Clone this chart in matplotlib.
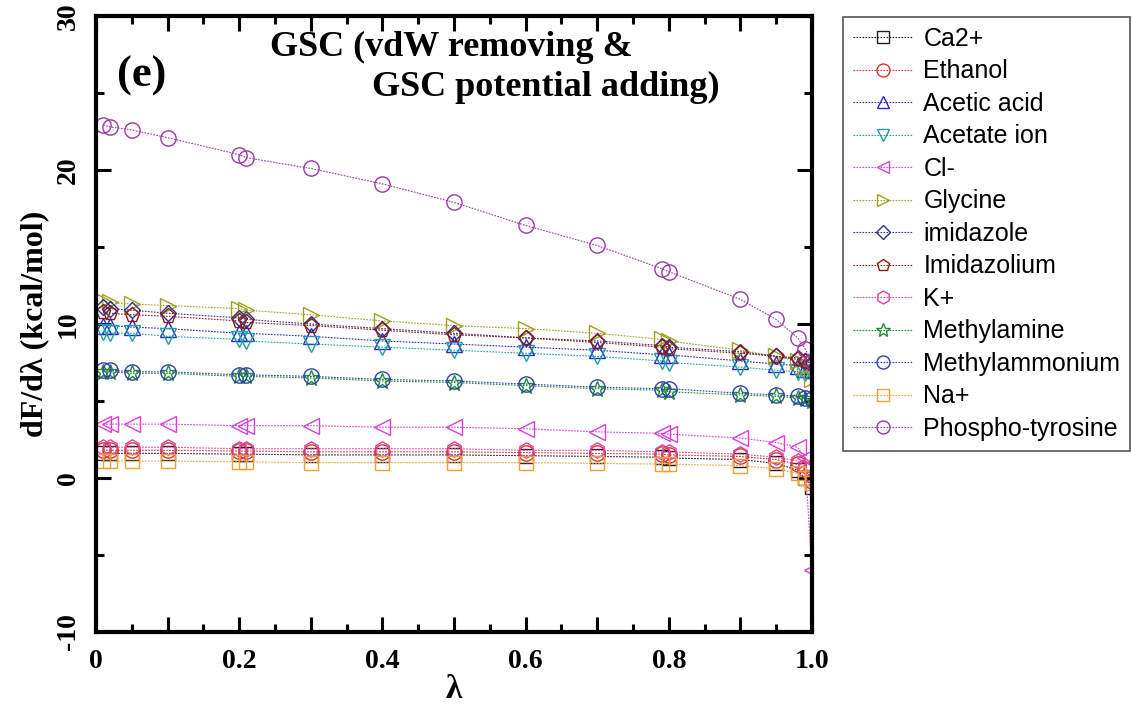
import matplotlib
matplotlib.use("Agg")
import matplotlib.pyplot as plt
from matplotlib.ticker import MultipleLocator

# lambda windows
lam = [0.01, 0.02, 0.05, 0.1, 0.2, 0.21, 0.3, 0.4, 0.5, 0.6, 0.7, 0.79, 0.8, 0.9, 0.95, 0.98, 0.99, 1.0]

# dF/dlambda (kcal/mol)
ca2 = [1.6, 1.6, 1.6, 1.6, 1.55, 1.55, 1.5, 1.5, 1.5, 1.45, 1.4, 1.35, 1.3, 1.2, 0.95, 0.5, 0.0, -0.6]
ethanol = [1.8, 1.8, 1.8, 1.8, 1.75, 1.75, 1.7, 1.7, 1.7, 1.65, 1.6, 1.55, 1.5, 1.4, 1.2, 0.9, 0.6, -0.2]
acetic_acid = [9.9, 9.9, 9.8, 9.7, 9.4, 9.4, 9.2, 8.9, 8.7, 8.5, 8.3, 8.0, 8.0, 7.6, 7.4, 7.3, 7.1, 7.0]
acetate_ion = [9.5, 9.4, 9.4, 9.2, 9.0, 8.9, 8.7, 8.5, 8.3, 8.1, 7.9, 7.6, 7.5, 7.2, 7.0, 6.9, 6.8, 6.7]
cl = [3.5, 3.5, 3.5, 3.5, 3.4, 3.4, 3.4, 3.3, 3.3, 3.2, 3.0, 2.9, 2.85, 2.6, 2.3, 2.0, 1.3, -6.0]
glycine = [11.5, 11.4, 11.3, 11.2, 11.0, 10.9, 10.6, 10.2, 9.9, 9.7, 9.4, 9.0, 8.9, 8.3, 7.9, 7.6, 7.2, 6.4]
imidazole = [11.1, 11.0, 10.9, 10.7, 10.4, 10.3, 10.0, 9.7, 9.4, 9.1, 8.9, 8.6, 8.5, 8.2, 7.9, 7.8, 7.6, 7.4]
imidazolium = [10.8, 10.7, 10.6, 10.5, 10.2, 10.1, 9.9, 9.6, 9.3, 9.1, 8.8, 8.5, 8.4, 8.1, 7.9, 7.7, 7.6, 7.5]
k = [2.0, 2.0, 2.0, 2.0, 1.9, 1.9, 1.9, 1.9, 1.9, 1.8, 1.8, 1.7, 1.7, 1.55, 1.35, 1.1, 0.8, 0.1]
methylamine = [6.9, 6.9, 6.8, 6.8, 6.6, 6.6, 6.5, 6.3, 6.2, 6.0, 5.8, 5.7, 5.6, 5.4, 5.3, 5.2, 5.1, 5.0]
methylammonium = [7.0, 7.0, 6.9, 6.9, 6.7, 6.7, 6.6, 6.4, 6.3, 6.1, 5.9, 5.8, 5.8, 5.5, 5.4, 5.3, 5.2, 5.1]
na = [1.1, 1.1, 1.1, 1.1, 1.05, 1.05, 1.0, 1.0, 1.0, 1.0, 0.95, 0.9, 0.9, 0.8, 0.6, 0.3, 0.0, -0.3]
phospho = [22.9, 22.8, 22.6, 22.1, 21.0, 20.8, 20.1, 19.1, 17.9, 16.4, 15.1, 13.6, 13.4, 11.6, 10.3, 9.1, 8.4, 7.6]

names = ["Ca2+", "Ethanol", "Acetic acid", "Acetate ion", "Cl-", "Glycine", "imidazole",
         "Imidazolium", "K+", "Methylamine", "Methylammonium", "Na+", "Phospho-tyrosine"]
series = [ca2, ethanol, acetic_acid, acetate_ion, cl, glycine, imidazole,
          imidazolium, k, methylamine, methylammonium, na, phospho]
colors = ["#202020", "#e03030", "#2828c8", "#20a0a0", "#d840d8", "#a0a020", "#303090",
          "#8a1c1c", "#e040a0", "#1e9030", "#3040b0", "#f0a030", "#9a38a8"]
markers = ["s", "o", "^", "v", "<", ">", "D", "p", "h", "*", "o", "s", "o"]
msizes = [10, 11, 11, 11, 11, 11, 8, 11, 11, 12, 11, 10, 11]

fig = plt.figure(figsize=(11.32, 7.08), dpi=100)
ax = fig.add_axes([0.0848, 0.1073, 0.6325, 0.8701])

for name, y, c, m, s in zip(names, series, colors, markers, msizes):
    ax.plot(lam, y, color=c, lw=0.8, ls=(0, (1.5, 1.2)), marker=m, ms=s,
            mfc="none", mec=c, mew=1.0, label=name)

ax.set_xlim(0, 1.0)
ax.set_ylim(-10, 30)

serif = "Liberation Serif"
ax.set_xticks([i / 10 for i in range(11)])
ax.set_xticklabels(["0", "", "0.2", "", "0.4", "", "0.6", "", "0.8", "", "1.0"])
ax.xaxis.set_minor_locator(MultipleLocator(0.05))
ax.set_yticks([-10, 0, 10, 20, 30])
ax.set_yticklabels(["-10", "0", "10", "20", "30"], rotation=90, va="center")
ax.yaxis.set_minor_locator(MultipleLocator(5))

ax.tick_params(which="both", direction="in", top=True, right=True, width=2.2)
ax.tick_params(which="major", length=11)
ax.tick_params(which="minor", length=6)
ax.tick_params(axis="x", which="major", pad=12)
ax.tick_params(axis="y", which="major", pad=11)
for lbl in ax.get_xticklabels() + ax.get_yticklabels():
    lbl.set_fontfamily(serif)
    lbl.set_fontweight("bold")
    lbl.set_fontsize(20)
for sp in ax.spines.values():
    sp.set_linewidth(3)

ax.set_xlabel("λ", fontfamily=serif, fontweight="bold", fontsize=24, labelpad=0)
ax.set_ylabel("dF/dλ (kcal/mol)", fontfamily=serif, fontweight="bold", fontsize=23, labelpad=5)

ax.text(0.03, 0.885, "(e)", transform=ax.transAxes, fontfamily=serif, fontweight="bold", fontsize=32)
ax.text(0.243, 0.935, "GSC (vdW removing &", transform=ax.transAxes, fontfamily=serif,
        fontweight="bold", fontsize=26)
ax.text(0.385, 0.87, "GSC potential adding)", transform=ax.transAxes, fontfamily=serif,
        fontweight="bold", fontsize=26)

leg = fig.legend(loc="upper left", bbox_to_anchor=(0.745, 0.976, 0.253, 0.0), mode="expand",
                 prop={"family": "Liberation Sans", "size": 18}, handlelength=2.4,
                 handletextpad=0.4, labelspacing=0.34, borderpad=0.4, borderaxespad=0,
                 markerscale=0.85, fancybox=False, edgecolor="#555555", framealpha=1)
leg.get_frame().set_linewidth(1.2)

fig.savefig("out.png", dpi=100)
